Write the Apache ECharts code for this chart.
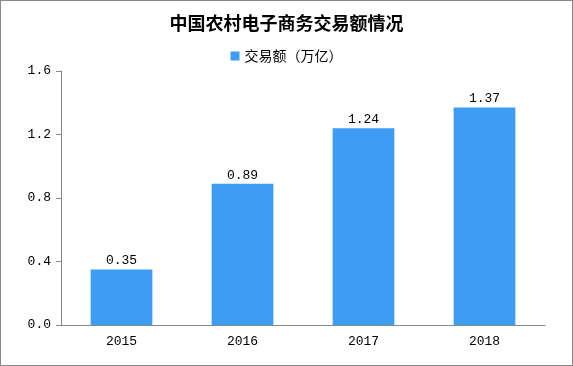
<!DOCTYPE html>
<html><head><meta charset="utf-8">
<script src="https://cdn.jsdelivr.net/npm/echarts@6/dist/echarts.min.js"></script>
<style>html,body{margin:0;padding:0;background:#fff}#c{width:571px;height:364px;border:1px solid #888}</style>
</head><body><div id="c"></div>
<script>
const categories = ['2015', '2016', '2017', '2018'];
const values = [0.35, 0.89, 1.24, 1.37];
const seriesName = '交易额（万亿）';
const titleText = '中国农村电子商务交易额情况';

const chart = echarts.init(document.getElementById('c'));
const mono = '"Liberation Mono","DejaVu Sans Mono",monospace';
chart.setOption({
  animation: false,
  title: { text: titleText, left: 'center', top: 8,
    textStyle: { fontSize: 18, fontWeight: 'bold', color: '#000', fontFamily: '"Noto Sans CJK SC",sans-serif' } },
  legend: { data: [seriesName], top: 43, left: 'center', itemWidth: 9, itemHeight: 9, icon: 'rect', itemGap: 4,
    textStyle: { fontSize: 14, color: '#000', fontFamily: '"Noto Sans CJK SC",sans-serif' } },
  grid: { left: 60, right: 27, top: 70, bottom: 40 },
  xAxis: { type: 'category', data: categories,
    axisLine: { lineStyle: { color: '#888' } },
    axisTick: { lineStyle: { color: '#888' }, length: 5 },
    axisLabel: { color: '#000', fontSize: 13, fontFamily: mono, margin: 10 } },
  yAxis: { type: 'value', min: 0, max: 1.6, interval: 0.4,
    splitLine: { show: false },
    axisLine: { show: true, lineStyle: { color: '#888' } },
    axisTick: { show: true, lineStyle: { color: '#888' }, length: 5 },
    axisLabel: { color: '#000', fontSize: 13, fontFamily: mono, margin: 10,
      formatter: v => v.toFixed(1) } },
  series: [{ name: seriesName, type: 'bar', data: values, barWidth: '51%',
    itemStyle: { color: '#3d9df2' },
    label: { show: true, position: 'top', color: '#000', fontSize: 13, fontFamily: mono, distance: 2,
      formatter: p => p.value.toFixed(2) } }]
});
</script></body></html>
